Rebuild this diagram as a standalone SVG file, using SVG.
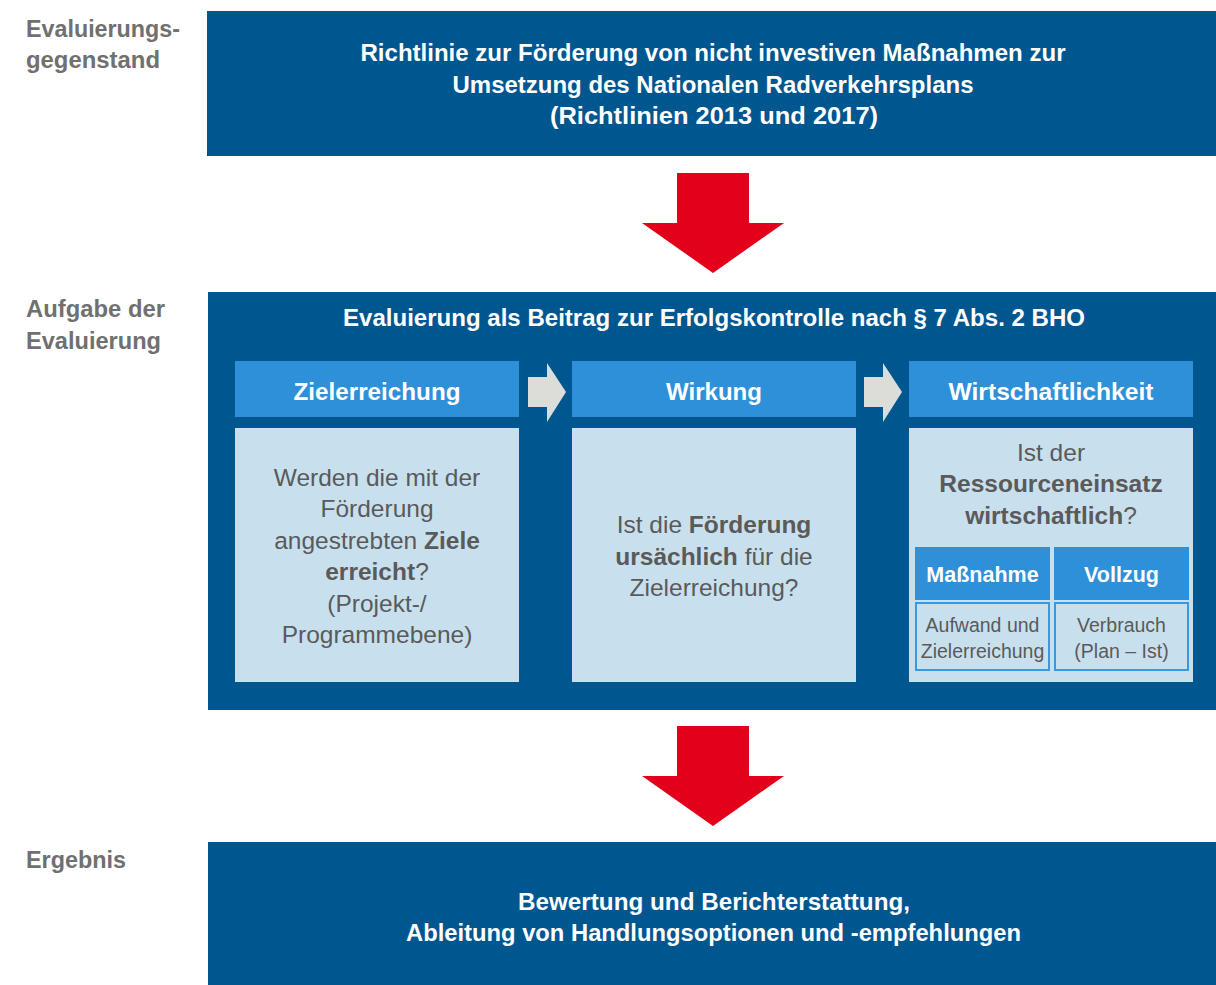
<svg xmlns="http://www.w3.org/2000/svg" width="1216" height="985" viewBox="0 0 1216 985">
<style>
.dark{fill:#00568E}
.mid{fill:#2E90D8}
.light{fill:#C8E0EE}
.red{fill:#E2001A}
.gar{fill:#DCDCD8}
.lbl{font-family:"Liberation Sans",Arial,sans-serif;font-weight:bold;font-size:23px;fill:#707070}
.wt{font-family:"Liberation Sans",Arial,sans-serif;font-weight:bold;font-size:23px;fill:#FFFFFF;text-anchor:middle}
.hd{font-family:"Liberation Sans",Arial,sans-serif;font-weight:bold;font-size:24px;fill:#FFFFFF;text-anchor:middle}
.sh{font-family:"Liberation Sans",Arial,sans-serif;font-weight:bold;font-size:21.5px;fill:#FFFFFF;text-anchor:middle}
.ct{font-family:"Liberation Sans",Arial,sans-serif;font-size:24.5px;fill:#5A5A5A;text-anchor:middle}
.ct tspan.b{font-weight:bold}
.sm{font-family:"Liberation Sans",Arial,sans-serif;font-size:19.5px;fill:#5A5A5A;text-anchor:middle}
.sub{fill:#C8E0EE;stroke:#3A98DC;stroke-width:2}
</style>
<rect width="1216" height="985" fill="#FFFFFF"/>
<g id="labels">
<text class="lbl" x="26" y="37" textLength="154" lengthAdjust="spacingAndGlyphs">Evaluierungs-</text>
<text class="lbl" x="26" y="68" textLength="134" lengthAdjust="spacingAndGlyphs">gegenstand</text>
<text class="lbl" x="26" y="317" textLength="139" lengthAdjust="spacingAndGlyphs">Aufgabe der</text>
<text class="lbl" x="26" y="349" textLength="135" lengthAdjust="spacingAndGlyphs">Evaluierung</text>
<text class="lbl" x="26" y="868" textLength="100" lengthAdjust="spacingAndGlyphs">Ergebnis</text>
</g>
<g id="node-gegenstand">
<rect class="dark" x="207" y="11" width="1009" height="145"/>
<text class="wt" x="713" y="61" textLength="705" lengthAdjust="spacingAndGlyphs">Richtlinie zur Förderung von nicht investiven Maßnahmen zur</text>
<text class="wt" x="713" y="93" textLength="521" lengthAdjust="spacingAndGlyphs">Umsetzung des Nationalen Radverkehrsplans</text>
<text class="wt" x="714" y="124" textLength="328" lengthAdjust="spacingAndGlyphs">(Richtlinien 2013 und 2017)</text>
</g>
<g id="node-aufgabe">
<rect class="dark" x="208" y="292" width="1008" height="418"/>
<text class="wt" x="714" y="326" textLength="742" lengthAdjust="spacingAndGlyphs">Evaluierung als Beitrag zur Erfolgskontrolle nach § 7 Abs. 2 BHO</text>
</g>
<g id="node-zielerreichung">
<rect class="mid" x="235" y="361" width="284" height="56"/>
<text class="hd" x="377" y="400" textLength="167" lengthAdjust="spacingAndGlyphs">Zielerreichung</text>
<rect class="light" x="235" y="428" width="284" height="254"/>
<text class="ct" x="377" y="486">Werden die mit der</text>
<text class="ct" x="377" y="517">Förderung</text>
<text class="ct" x="377" y="549">angestrebten <tspan class="b">Ziele</tspan></text>
<text class="ct" x="377" y="580"><tspan class="b">erreicht</tspan>?</text>
<text class="ct" x="377" y="612">(Projekt-/</text>
<text class="ct" x="377" y="643">Programmebene)</text>
</g>
<g id="node-wirkung">
<rect class="mid" x="572" y="361" width="284" height="56"/>
<text class="hd" x="714" y="400" textLength="96" lengthAdjust="spacingAndGlyphs">Wirkung</text>
<rect class="light" x="572" y="428" width="284" height="254"/>
<text class="ct" x="714" y="533">Ist die <tspan class="b">Förderung</tspan></text>
<text class="ct" x="714" y="565"><tspan class="b">ursächlich</tspan> für die</text>
<text class="ct" x="714" y="596">Zielerreichung?</text>
</g>
<g id="node-wirtschaftlichkeit">
<rect class="mid" x="909" y="361" width="284" height="56"/>
<text class="hd" x="1051" y="400" textLength="205" lengthAdjust="spacingAndGlyphs">Wirtschaftlichkeit</text>
<rect class="light" x="909" y="428" width="284" height="254"/>
<text class="ct" x="1051" y="461">Ist der</text>
<text class="ct" x="1051" y="492"><tspan class="b">Ressourceneinsatz</tspan></text>
<text class="ct" x="1051" y="524"><tspan class="b">wirtschaftlich</tspan>?</text>
</g>
<g id="node-massnahme">
<rect class="mid" x="915" y="547" width="135" height="53"/>
<text class="sh" x="982.5" y="582">Maßnahme</text>
<rect class="sub" x="916" y="603" width="133" height="67"/>
<text class="sm" x="982.5" y="632">Aufwand und</text>
<text class="sm" x="982.5" y="658">Zielerreichung</text>
</g>
<g id="node-vollzug">
<rect class="mid" x="1054" y="547" width="135" height="53"/>
<text class="sh" x="1121.5" y="582">Vollzug</text>
<rect class="sub" x="1055" y="603" width="133" height="67"/>
<text class="sm" x="1121.5" y="632">Verbrauch</text>
<text class="sm" x="1121.5" y="658">(Plan – Ist)</text>
</g>
<g id="node-ergebnis">
<rect class="dark" x="208" y="842" width="1008" height="143"/>
<text class="wt" x="714" y="910" textLength="392" lengthAdjust="spacingAndGlyphs">Bewertung und Berichterstattung,</text>
<text class="wt" x="713.5" y="941" textLength="615" lengthAdjust="spacingAndGlyphs">Ableitung von Handlungsoptionen und -empfehlungen</text>
</g>
<g id="connectors">
<polygon class="red" points="677,173 749,173 749,223 784,223 713,273 642,223 677,223"/>
<polygon class="red" points="677,726 749,726 749,776 784,776 713,826 642,776 677,776"/>
<polygon class="gar" points="528,377 547,377 547,363 566,392 547,422 547,407 528,407"/>
<polygon class="gar" points="864,377 883,377 883,363 902,392 883,422 883,407 864,407"/>
</g>
</svg>
